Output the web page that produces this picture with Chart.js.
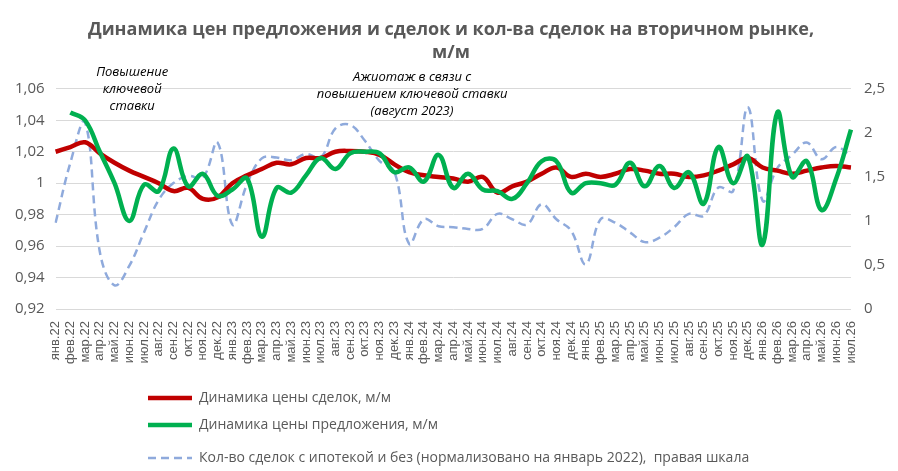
<!DOCTYPE html>
<html>
<head>
<meta charset="utf-8">
<script src="https://cdn.jsdelivr.net/npm/chart.js@4.4.1/dist/chart.umd.min.js"></script>
<style>
  html, body { margin: 0; padding: 0; background: #fff; }
  #wrap { width: 898px; height: 471px; position: relative; }
</style>
</head>
<body>
<div id="wrap"><canvas id="dynChart"></canvas></div>
<script>
const months = [
  'янв.22','фев.22','мар.22','апр.22','май.22','июн.22','июл.22','авг.22','сен.22','окт.22','ноя.22','дек.22',
  'янв.23','фев.23','мар.23','апр.23','май.23','июн.23','июл.23','авг.23','сен.23','окт.23','ноя.23','дек.23',
  'янв.24','фев.24','мар.24','апр.24','май.24','июн.24','июл.24','авг.24','сен.24','окт.24','ноя.24','дек.24',
  'янв.25','фев.25','мар.25','апр.25','май.25','июн.25','июл.25','авг.25','сен.25','окт.25','ноя.25','дек.25',
  'янв.26','фев.26','мар.26','апр.26','май.26','июн.26','июл.26'
];

// left scale
const dealPrice = [
  1.020, 1.023, 1.026, 1.019, 1.013, 1.008, 1.004, 1.000, 0.995, 0.997, 0.990, 0.991,
  1.000, 1.005, 1.009, 1.013, 1.012, 1.016, 1.016, 1.020, 1.0205, 1.020, 1.018, 1.012,
  1.007, 1.005, 1.004, 1.003, 1.001, 1.004, 0.994, 0.998, 1.001, 1.006, 1.010, 1.004,
  1.006, 1.004, 1.006, 1.009, 1.008, 1.006, 1.006, 1.004, 1.005, 1.008, 1.012, 1.016,
  1.010, 1.008, 1.006, 1.008, 1.010, 1.011, 1.010
];
const offerPrice = [
  null, 1.045, 1.040, 1.020, 1.000, 0.976, 0.999, 0.995, 1.022, 0.998, 1.006, 0.992,
  0.996, 1.003, 0.966, 0.997, 0.994, 1.005, 1.016, 1.009, 1.019, 1.020, 1.019, 1.007,
  1.010, 1.001, 1.018, 0.997, 1.006, 0.996, 0.995, 0.990, 1.000, 1.014, 1.014, 0.994,
  1.000, 1.000, 0.999, 1.013, 0.998, 1.011, 0.997, 1.007, 0.987, 1.023, 1.000, 1.017,
  0.961, 1.045, 1.004, 1.014, 0.983, 1.003, 1.034
];
// right scale
const dealCount = [
  0.98, 1.66, 2.12, 0.65, 0.27, 0.49, 0.87, 1.24, 1.43, 1.51, 1.49, 1.89,
  0.96, 1.42, 1.71, 1.72, 1.69, 1.76, 1.72, 2.05, 2.09, 1.91, 1.68, 1.56,
  0.74, 1.02, 0.94, 0.93, 0.91, 0.91, 1.08, 1.02, 0.96, 1.19, 1.02, 0.89,
  0.51, 1.02, 0.98, 0.87, 0.76, 0.81, 0.93, 1.08, 1.06, 1.38, 1.34, 2.29,
  1.23, 1.60, 1.75, 1.89, 1.70, 1.84, 1.73
];

const titleLines = ['Динамика цен предложения и сделок и кол-ва сделок на вторичном рынке,', 'м/м'];
const notes = [
  { at: 5.2, lines: ['Повышение', 'ключевой', 'ставки'] },
  { at: 24.2, lines: ['Ажиотаж в связи с', 'повышением ключевой ставки', '(август 2023)'] }
];

const commaFmt = v => String(Number(v.toFixed(2))).replace('.', ',');

// text notes above the plot, anchored on the month axis
const notesPlugin = {
  id: 'notes',
  afterDraw(chart) {
    const { ctx, chartArea } = chart;
    const x = chart.scales.x;
    ctx.save();
    ctx.font = 'italic 13px "Open Sans"';
    ctx.fillStyle = '#000';
    ctx.textAlign = 'center';
    ctx.textBaseline = 'middle';
    notes.forEach((n, k) => {
      const top = chartArea.top + (k === 0 ? -17 : -12);
      n.lines.forEach((t, j) => ctx.fillText(t, x.getPixelForValue(n.at), top + j * 17));
    });
    ctx.restore();
  }
};

// stacked legend under the chart
const bottomLegend = {
  id: 'bottomLegend',
  afterDraw(chart) {
    const { ctx } = chart;
    const rows = [398, 425, 458];
    chart.data.datasets.forEach((ds, i) => {
      ctx.save();
      ctx.strokeStyle = ds.borderColor;
      ctx.lineWidth = ds.borderWidth;
      ctx.setLineDash(ds.borderDash || []);
      ctx.beginPath();
      ctx.moveTo(148, rows[i]);
      ctx.lineTo(192, rows[i]);
      ctx.stroke();
      ctx.setLineDash([]);
      ctx.fillStyle = '#595959';
      ctx.font = '14px "Open Sans"';
      ctx.textBaseline = 'middle';
      ctx.fillText(ds.label, 199, rows[i]);
      ctx.restore();
    });
  }
};

const ctx = document.getElementById('dynChart').getContext('2d');
const dynChart = new Chart(ctx, {
  type: 'line',
  data: {
    labels: months,
    datasets: [{
      label: 'Динамика цены сделок, м/м',
      data: dealPrice,
      yAxisID: 'y',
      borderColor: '#C00000',
      borderWidth: 4.5,
      tension: 0.4,
      pointRadius: 0,
      order: 1
    }, {
      label: 'Динамика цены предложения, м/м',
      data: offerPrice,
      yAxisID: 'y',
      borderColor: '#00B050',
      borderWidth: 4.5,
      tension: 0.4,
      pointRadius: 0,
      order: 0
    }, {
      label: 'Кол-во сделок с ипотекой и без (нормализовано на январь 2022),  правая шкала',
      data: dealCount,
      yAxisID: 'y1',
      borderColor: '#8FAADC',
      borderWidth: 2.5,
      borderDash: [8, 5],
      tension: 0.4,
      pointRadius: 0,
      order: 2
    }]
  },
  options: {
    responsive: true,
    maintainAspectRatio: false,
    animation: false,
    layout: { padding: { left: 4, right: 0, top: 0, bottom: 103 } },
    scales: {
      x: {
        grid: { display: false },
        border: { display: false },
        ticks: {
          autoSkip: false,
          minRotation: 90,
          maxRotation: 90,
          padding: 4,
          color: '#595959',
          font: { family: '"Liberation Sans"', size: 13 }
        }
      },
      y: {
        position: 'left',
        min: 0.92,
        max: 1.06,
        ticks: {
          stepSize: 0.02,
          padding: 11,
          color: '#595959',
          font: { family: '"Open Sans"', size: 15 },
          callback: v => commaFmt(v)
        },
        grid: { color: '#D9D9D9', lineWidth: 1, drawTicks: false },
        border: { display: false }
      },
      y1: {
        position: 'right',
        min: 0,
        max: 2.5,
        ticks: {
          stepSize: 0.5,
          padding: 13,
          color: '#595959',
          font: { family: '"Open Sans"', size: 15 },
          callback: v => commaFmt(v)
        },
        grid: { display: false, drawTicks: false },
        border: { display: false }
      }
    },
    plugins: {
      legend: { display: false },
      tooltip: { enabled: false },
      title: {
        display: true,
        text: titleLines,
        color: '#595959',
        font: { family: '"Open Sans"', size: 18, weight: 'bold', lineHeight: 1.3 },
        padding: { top: 18, bottom: 24 }
      }
    }
  },
  plugins: [notesPlugin, bottomLegend]
});
</script>
</body>
</html>
